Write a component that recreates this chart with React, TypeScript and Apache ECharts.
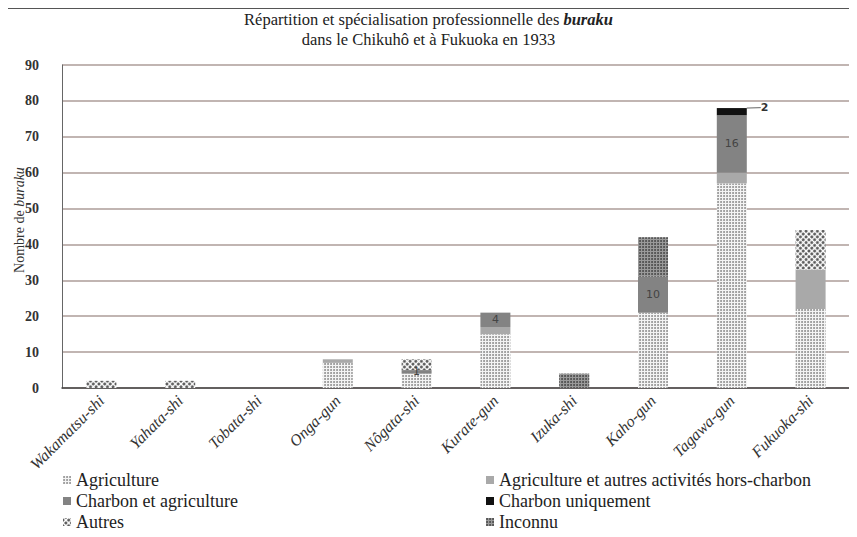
import React, { useEffect, useRef } from "react";
import * as echarts from "echarts";

const categories = [
  "Wakamatsu-shi",
  "Yahata-shi",
  "Tobata-shi",
  "Onga-gun",
  "Nôgata-shi",
  "Kurate-gun",
  "Izuka-shi",
  "Kaho-gun",
  "Tagawa-gun",
  "Fukuoka-shi",
];

const agriculture = [0, 0, 0, 7, 4, 15, 0, 21, 57, 22];
const agriAutres = [0, 0, 0, 1, 0, 2, 0, 0, 3, 11];
const charbonAgri = [0, 0, 0, 0, 1, 4, 0, 10, 16, 0];
const charbonSeul = [0, 0, 0, 0, 0, 0, 0, 0, 2, 0];
const autres = [2, 2, 0, 0, 3, 0, 0, 0, 0, 11];
const inconnu = [0, 0, 0, 0, 0, 0, 4, 11, 0, 0];

const yTicks = { min: 0, max: 90, interval: 10 };

const SERIF = "Liberation Serif";
const SANS = "DejaVu Sans";

export default function App() {
  const ref = useRef<HTMLDivElement>(null);
  useEffect(() => {
    if (!ref.current) return;
    const chart = echarts.init(ref.current, null, { renderer: "svg" });
    const legendText = { fontFamily: SERIF, fontSize: 18, color: "#222", lineHeight: 18 };
    const option: any = {
      animation: false,
      backgroundColor: "#ffffff",
      title: {
        left: "center",
        top: 4,
        text:
          "{a|Répartition et spécialisation professionnelle des }{i|buraku}\n{a|dans le Chikuhô et à Fukuoka en 1933}",
        textStyle: {
          fontWeight: "normal",
          rich: {
            a: { fontFamily: SERIF, fontSize: 16.5, fontWeight: "normal", color: "#222", lineHeight: 20 },
            i: { fontFamily: SERIF, fontSize: 16.5, fontStyle: "italic", fontWeight: "bold", color: "#222", lineHeight: 20 },
          },
        },
      },
      graphic: [
        {
          type: "rect",
          shape: { x: 6, y: 8, width: 900, height: 600 },
          style: { fill: "none", stroke: "#555", lineWidth: 2 },
          silent: true,
        },
        {
          type: "text",
          x: 19,
          y: 220,
          rotation: Math.PI / 2,
          silent: true,
          style: {
            text: "{a|Nombre de }{i|buraku}",
            align: "center",
            verticalAlign: "middle",
            rich: {
              a: { fontFamily: SERIF, fontSize: 14, fill: "#333" },
              i: { fontFamily: SERIF, fontSize: 14, fontStyle: "italic", fill: "#333" },
            },
          },
        },
      ],
      grid: { left: 62, right: 7, top: 65, bottom: 149, containLabel: false, outerBoundsMode: "none" },
      legend: [
        {
          orient: "vertical",
          left: 58,
          top: 466,
          itemWidth: 8,
          itemHeight: 8,
          itemGap: 3,
          icon: "rect",
          textStyle: legendText,
          data: ["Agriculture", "Charbon et agriculture", "Autres"],
        },
        {
          orient: "vertical",
          left: 481,
          top: 466,
          itemWidth: 8,
          itemHeight: 8,
          itemGap: 3,
          icon: "rect",
          textStyle: legendText,
          data: ["Agriculture et autres activités hors-charbon", "Charbon uniquement", "Inconnu"],
        },
      ],
      xAxis: {
        type: "category",
        data: categories,
        axisTick: { show: false },
        axisLine: { lineStyle: { color: "#444", width: 1.5 } },
        axisLabel: {
          rotate: 45,
          interval: 0,
          fontFamily: SERIF,
          fontStyle: "italic",
          fontSize: 16,
          color: "#333",
          margin: 10,
        },
      },
      yAxis: {
        type: "value",
        ...yTicks,
        axisLine: { show: true, lineStyle: { color: "#666", width: 1 } },
        axisTick: { show: false },
        axisLabel: {
          fontFamily: SERIF,
          fontSize: 14,
          fontWeight: "bold",
          color: "#333",
          margin: 23,
        },
        splitLine: { lineStyle: { color: "#ad9d99", width: 1.5 } },
      },
      series: [
        {
          name: "Agriculture",
          type: "bar",
          stack: "s",
          barWidth: 30,
          data: agriculture,
          itemStyle: {
            color: "#f4f4f4",
            decal: { symbol: "circle", symbolSize: 0.9, dashArrayX: [2, 1], dashArrayY: [2, 1], color: "#8a8a8a", rotation: 0 },
          },
        },
        {
          name: "Agriculture et autres activités hors-charbon",
          type: "bar",
          stack: "s",
          data: agriAutres,
          itemStyle: { color: "#a9a9a9" },
        },
        {
          name: "Charbon et agriculture",
          type: "bar",
          stack: "s",
          data: charbonAgri,
          itemStyle: { color: "#838383" },
          label: {
            show: true,
            position: "inside",
            color: "#444",
            fontFamily: SANS,
            fontSize: 11,
            formatter: (p: any) => (p.value ? String(p.value) : ""),
          },
        },
        {
          name: "Charbon uniquement",
          type: "bar",
          stack: "s",
          data: charbonSeul.map((v) =>
            v > 0
              ? {
                  value: v,
                  label: {
                    show: true,
                    position: "right",
                    distance: 2,
                    color: "#333",
                    fontFamily: SANS,
                    fontWeight: "bold",
                    fontSize: 11,
                  },
                  labelLine: { show: true, lineStyle: { color: "#666", width: 1 } },
                }
              : { value: v, label: { show: false }, labelLine: { show: false } }
          ),
          itemStyle: { color: "#111111" },
          labelLayout: (p: any) => (p.dataIndex === 8 ? { dx: 12, dy: -4 } : {}),
        },
        {
          name: "Autres",
          type: "bar",
          stack: "s",
          data: autres,
          itemStyle: {
            color: "#ffffff",
            decal: { symbol: "circle", symbolSize: 1, dashArrayX: [3, 1], dashArrayY: [3, 1], color: "#555", rotation: Math.PI / 4 },
          },
        },
        {
          name: "Inconnu",
          type: "bar",
          stack: "s",
          data: inconnu,
          itemStyle: {
            color: "#9a9a9a",
            decal: { symbol: "circle", symbolSize: 0.9, dashArrayX: [2, 1], dashArrayY: [2, 1], color: "#444", rotation: 0 },
          },
        },
      ],
    };
    chart.setOption(option);
    return () => chart.dispose();
  }, []);
  return <div ref={ref} style={{ width: 857, height: 537, margin: -8 }} />;
}
